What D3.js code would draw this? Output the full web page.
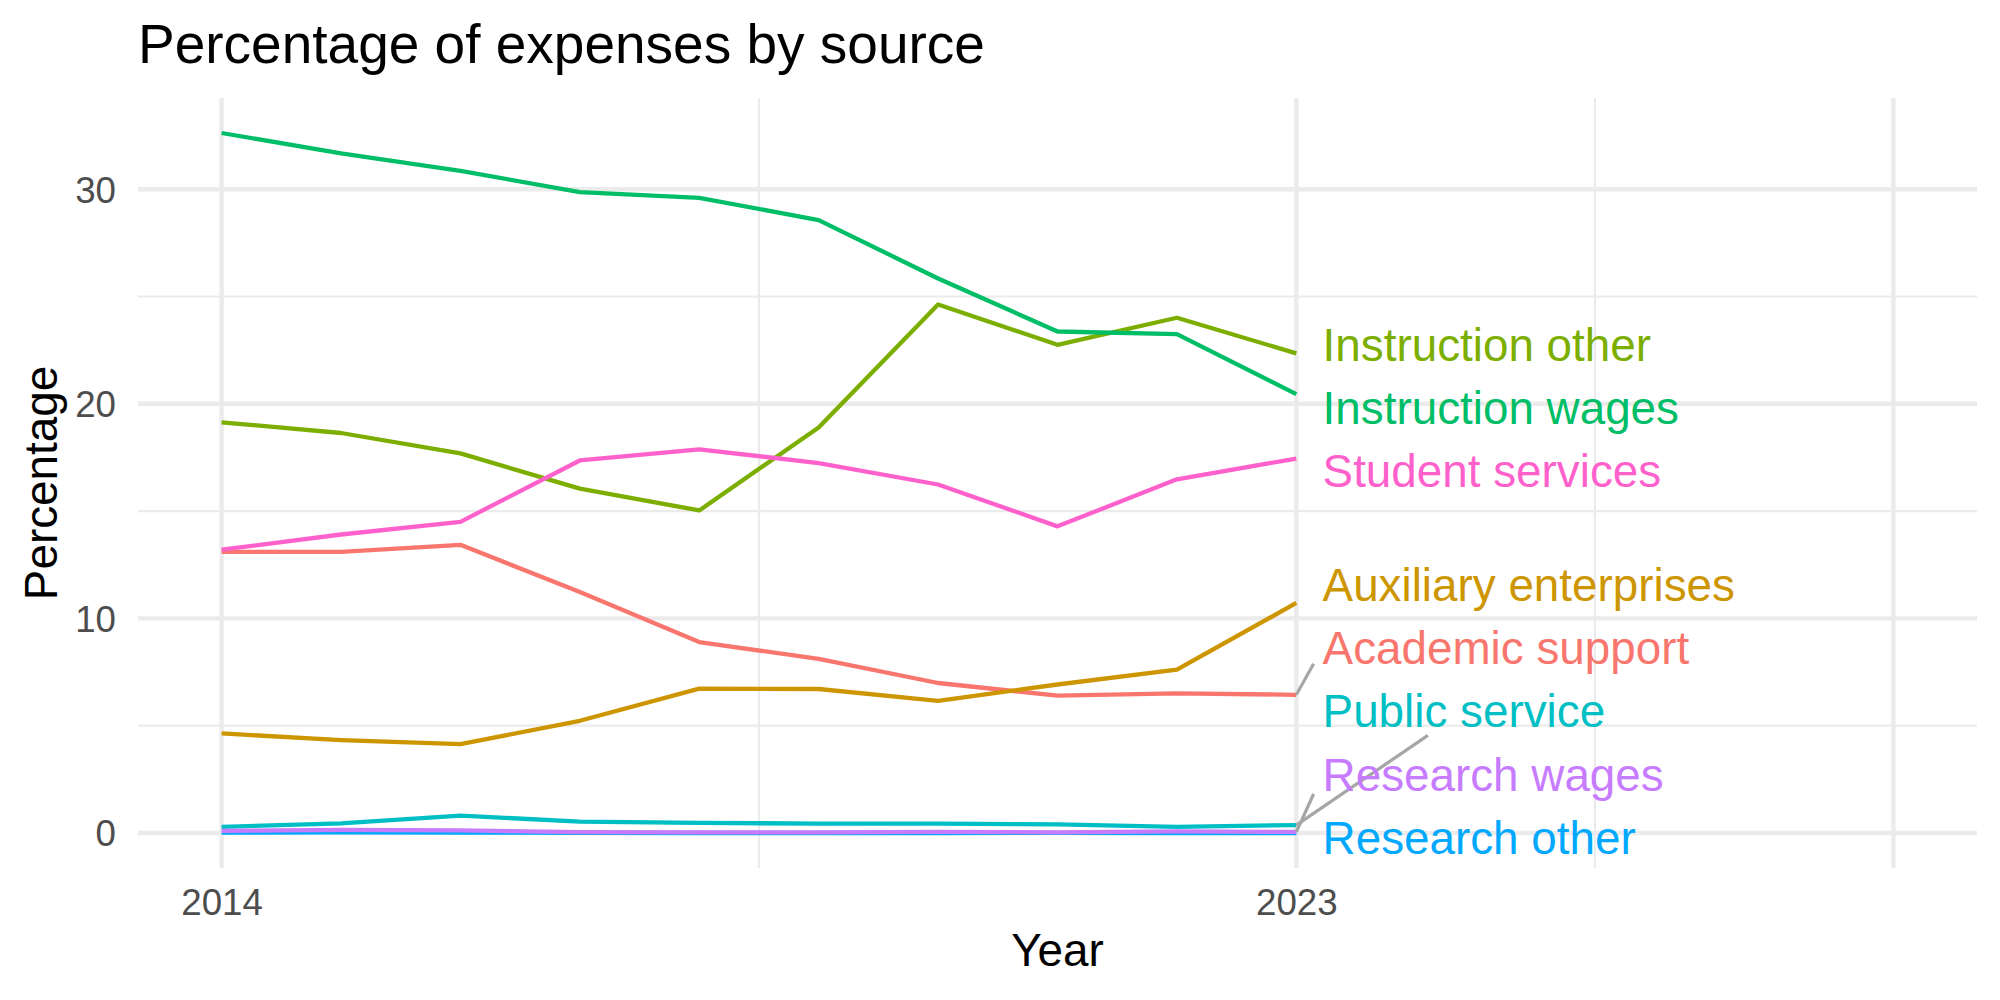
<!DOCTYPE html>
<meta charset="utf-8">
<style>
	body {
		margin:			0px;
		background:		white;
	}
	text {
		font-family:	"Liberation Sans", Arial, sans-serif;
	}
</style>
<body>
<script src="https://d3js.org/d3.v7.min.js"></script>
<script>

	//Years on the x axis
	var years = [2014, 2015, 2016, 2017, 2018, 2019, 2020, 2021, 2022, 2023];

	//Series names, alphabetical as the legend order
	var categories = ["Academic support", "Auxiliary enterprises", "Instruction other", "Instruction wages",
		"Public service", "Research other", "Research wages", "Student services"];

	//Percentages, one value per year
	var academicSupport = [13.1, 13.1, 13.43, 11.23, 8.9, 8.11, 6.99, 6.4, 6.51, 6.44];
	var auxiliaryEnterprises = [4.64, 4.33, 4.14, 5.23, 6.73, 6.71, 6.16, 6.92, 7.61, 10.72];
	var instructionOther = [19.14, 18.64, 17.69, 16.05, 15.03, 18.9, 24.63, 22.75, 24.01, 22.35];
	var instructionWages = [32.62, 31.67, 30.86, 29.86, 29.6, 28.56, 25.84, 23.37, 23.25, 20.45];
	var publicService = [0.29, 0.45, 0.81, 0.53, 0.47, 0.44, 0.44, 0.4, 0.29, 0.37];
	var researchOther = [0.02, 0.03, 0.02, 0.01, 0.0, 0.0, 0.0, 0.01, 0.0, 0.0];
	var researchWages = [0.1, 0.15, 0.12, 0.04, 0.03, 0.03, 0.05, 0.03, 0.08, 0.05];
	var studentServices = [13.2, 13.91, 14.5, 17.36, 17.88, 17.24, 16.24, 14.29, 16.48, 17.45];

	//Axis breaks
	var xBreaks = [2014, 2023, 2028];
	var xLabels = ["2014", "2023", ""];
	var xMinor = [2018.5, 2025.5];
	var yBreaks = [0, 10, 20, 30];
	var yMinor = [5, 15, 25];

	//Labels whose connector points at the middle of the text
	var centreConnectors = ["Public service"];

	var values = [academicSupport, auxiliaryEnterprises, instructionOther, instructionWages,
		publicService, researchOther, researchWages, studentServices];

	var colours = d3.scaleOrdinal()
		.domain(categories)
		.range(["#F8766D", "#CD9600", "#7CAE00", "#00BE67", "#00BFC4", "#00A9FF", "#C77CFF", "#FF61CC"]);

	var series = categories.map(function(name, i) {
		return { name: name, points: years.map(function(y, j) { return { year: y, value: values[i][j] }; }) };
	});

	var width = 2000;
	var height = 1000;
	var panel = { left: 138, right: 1977, top: 98, bottom: 868 };

	//ggplot style 5% expansion
	var xLim = [2014, 2028];
	var xPad = (xLim[1] - xLim[0]) * 0.05;
	var yExt = d3.extent(d3.merge(values));
	var yPad = (yExt[1] - yExt[0]) * 0.05;

	var xScale = d3.scaleLinear()
		.domain([xLim[0] - xPad, xLim[1] + xPad])
		.range([panel.left, panel.right]);
	var yScale = d3.scaleLinear()
		.domain([yExt[0] - yPad, yExt[1] + yPad])
		.range([panel.bottom, panel.top]);

	var svg = d3.select("body")
		.append("svg")
		.attr("width", width)
		.attr("height", height);

	svg.append("rect")
		.attr("width", width)
		.attr("height", height)
		.attr("fill", "white");

	//Grid lines, minor first
	var grid = svg.append("g");
	grid.selectAll(".ymin")
		.data(yMinor)
		.enter()
		.append("line")
		.attr("x1", panel.left).attr("x2", panel.right)
		.attr("y1", function(d) { return yScale(d); })
		.attr("y2", function(d) { return yScale(d); })
		.attr("stroke", "#EBEBEB")
		.attr("stroke-width", 2.2);
	grid.selectAll(".xmin")
		.data(xMinor)
		.enter()
		.append("line")
		.attr("y1", panel.top).attr("y2", panel.bottom)
		.attr("x1", function(d) { return xScale(d); })
		.attr("x2", function(d) { return xScale(d); })
		.attr("stroke", "#EBEBEB")
		.attr("stroke-width", 2.2);
	grid.selectAll(".ymaj")
		.data(yBreaks)
		.enter()
		.append("line")
		.attr("x1", panel.left).attr("x2", panel.right)
		.attr("y1", function(d) { return yScale(d); })
		.attr("y2", function(d) { return yScale(d); })
		.attr("stroke", "#EBEBEB")
		.attr("stroke-width", 4.4);
	grid.selectAll(".xmaj")
		.data(xBreaks)
		.enter()
		.append("line")
		.attr("y1", panel.top).attr("y2", panel.bottom)
		.attr("x1", function(d) { return xScale(d); })
		.attr("x2", function(d) { return xScale(d); })
		.attr("stroke", "#EBEBEB")
		.attr("stroke-width", 4.4);

	//Axes without domain line or ticks
	var xAxis = svg.append("g")
		.attr("transform", "translate(0," + panel.bottom + ")")
		.call(d3.axisBottom(xScale).tickValues(xBreaks).tickSize(0)
			.tickFormat(function(d, i) { return xLabels[i]; }));
	xAxis.select(".domain").remove();
	xAxis.selectAll("text")
		.attr("y", 47)
		.attr("dy", 0)
		.attr("font-size", "36.7px")
		.attr("font-family", "Liberation Sans, Arial, sans-serif")
		.attr("fill", "#4D4D4D");

	var yAxis = svg.append("g")
		.attr("transform", "translate(" + panel.left + ",0)")
		.call(d3.axisLeft(yScale).tickValues(yBreaks).tickSize(0));
	yAxis.select(".domain").remove();
	yAxis.selectAll("text")
		.attr("x", -22)
		.attr("dy", "0.35em")
		.attr("font-size", "36.7px")
		.attr("font-family", "Liberation Sans, Arial, sans-serif")
		.attr("fill", "#4D4D4D");

	//Lines
	var line = d3.line()
		.x(function(d) { return xScale(d.year); })
		.y(function(d) { return yScale(d.value); });

	svg.append("g")
		.selectAll("path")
		.data(series)
		.enter()
		.append("path")
		.attr("d", function(d) { return line(d.points); })
		.attr("fill", "none")
		.attr("stroke", function(d) { return colours(d.name); })
		.attr("stroke-width", 4.3)
		.attr("stroke-linejoin", "round");

	//Labels at the last year, spread apart vertically
	var fontSize = 45.8;
	var spacing = 63.3;
	var lastYear = years[years.length - 1];
	var labelX = xScale(lastYear + 0.22);
	var maxBaseline = panel.bottom - 14;

	var labels = series.map(function(s) {
		var last = s.points[s.points.length - 1];
		return { name: s.name, px: xScale(lastYear), py: yScale(last.value), target: yScale(last.value) + 22 };
	}).sort(function(a, b) { return a.target - b.target; });

	//Isotonic fit with a minimum gap, capped at the panel bottom
	var blocks = [];
	labels.forEach(function(l, i) {
		blocks.push({ sum: l.target - i * spacing, n: 1 });
		while (blocks.length > 1 && blocks[blocks.length - 2].sum / blocks[blocks.length - 2].n >
				blocks[blocks.length - 1].sum / blocks[blocks.length - 1].n) {
			var b = blocks.pop();
			blocks[blocks.length - 1].sum += b.sum;
			blocks[blocks.length - 1].n += b.n;
		}
	});
	var cap = maxBaseline - (labels.length - 1) * spacing;
	var k = 0;
	blocks.forEach(function(b) {
		for (var j = 0; j < b.n; j++, k++) {
			labels[k].baseline = Math.min(b.sum / b.n, cap) + k * spacing;
		}
	});

	var segs = svg.append("g");
	var texts = svg.append("g")
		.selectAll("text")
		.data(labels)
		.enter()
		.append("text")
		.attr("x", labelX)
		.attr("y", function(d) { return d.baseline; })
		.attr("font-size", fontSize + "px")
		.attr("fill", function(d) { return colours(d.name); })
		.text(function(d) { return d.name; });

	//Connectors from the point to the label box
	texts.each(function(d) {
		var w = this.getComputedTextLength();
		var box = { x0: labelX - 9, x1: labelX + w + 9, y0: d.baseline - 0.72 * fontSize - 9, y1: d.baseline + 8 };
		var cy = d.baseline - 16.5;
		var ax = centreConnectors.indexOf(d.name) >= 0 ? labelX + w / 2 : labelX;
		var dx = ax - d.px, dy = cy - d.py;
		var t0 = 0;
		[[dx, d.px, box.x0, box.x1], [dy, d.py, box.y0, box.y1]].forEach(function(a) {
			if (a[0] === 0) return;
			var ta = (a[2] - a[1]) / a[0], tb = (a[3] - a[1]) / a[0];
			t0 = Math.max(t0, Math.min(ta, tb));
		});
		var ex = d.px + dx * t0, ey = d.py + dy * t0;
		if (Math.hypot(ex - d.px, ey - d.py) > 27) {
			segs.append("line")
				.attr("x1", d.px).attr("y1", d.py)
				.attr("x2", ex).attr("y2", ey)
				.attr("stroke", "#A6A6A6")
				.attr("stroke-width", 3.2);
		}
	});

	//Titles
	svg.append("text")
		.attr("x", panel.left)
		.attr("y", 63)
		.attr("font-size", "55px")
		.attr("fill", "black")
		.text("Percentage of expenses by source");

	svg.append("text")
		.attr("x", (panel.left + panel.right) / 2)
		.attr("y", 966)
		.attr("text-anchor", "middle")
		.attr("font-size", "45.8px")
		.attr("fill", "black")
		.text("Year");

	svg.append("text")
		.attr("transform", "translate(57," + (panel.top + panel.bottom) / 2 + ") rotate(-90)")
		.attr("text-anchor", "middle")
		.attr("font-size", "45.8px")
		.attr("fill", "black")
		.text("Percentage");

</script>
</body>
